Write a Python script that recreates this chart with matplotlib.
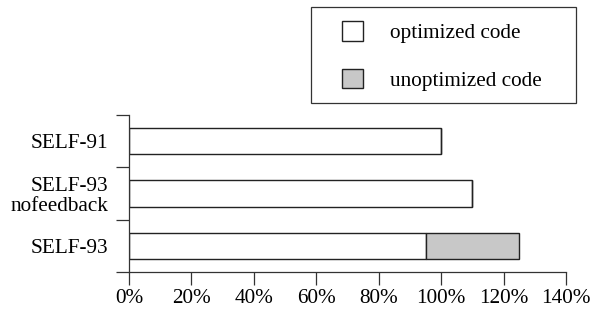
import matplotlib
matplotlib.use('Agg')
from matplotlib import pyplot as plt
from matplotlib.patches import Rectangle
import numpy as np

# Data (relative execution time, % of SELF-91)
labels = ['SELF-91', 'SELF-93\nnofeedback', 'SELF-93']
optimized = [100, 110, 95]
unoptimized = [0, 0, 30]
xticks = [0, 20, 40, 60, 80, 100, 120, 140]

plt.rcParams['font.family'] = ['Liberation Serif', 'DejaVu Serif']
plt.rcParams['font.size'] = 15.3

W, H = 596, 309
fig = plt.figure(figsize=(W / 100, H / 100), dpi=100)
ax = fig.add_axes([129 / W, 1 - 272 / H, (566 - 129) / W, (272 - 115) / H])

y = np.arange(len(labels))[::-1]
ax.barh(y, optimized, height=0.5, color='white', edgecolor='#222222', linewidth=1.0,
        label='optimized code')
ax.barh(y, unoptimized, left=optimized, height=0.5, color='#c8c8c8', edgecolor='#222222',
        linewidth=1.0, label='unoptimized code')

ax.set_xlim(0, 140)
ax.set_ylim(-0.5, len(labels) - 0.5)
ax.set_xticks(xticks)
ax.set_xticklabels([f'{v}%' for v in xticks])
ax.set_yticks(y)
ax.set_yticklabels(labels, linespacing=1.1)
ax.set_yticks(np.arange(-0.5, len(labels)), minor=True)

ax.tick_params(axis='y', which='major', length=0, pad=15)
ax.tick_params(axis='y', which='minor', length=9.5, width=0.9, direction='out', color='#333333')
ax.tick_params(axis='x', length=9.5, width=0.9, direction='out', pad=2.5, color='#333333')

for side in ['top', 'right']:
    ax.spines[side].set_visible(False)
for side in ['left', 'bottom']:
    ax.spines[side].set_linewidth(0.9)
    ax.spines[side].set_color('#333333')

# legend box drawn separately so the padding matches
fig.patches.append(Rectangle((311 / W, 1 - 103 / H), (576 - 311) / W, 96 / H,
                             transform=fig.transFigure, facecolor='white',
                             edgecolor='#333333', linewidth=0.9, zorder=0))
fig.legend(loc='upper left', bbox_to_anchor=(342 / W, 1 - 21 / H), frameon=False,
           handlelength=1.0, handleheight=1.05, handletextpad=1.25,
           labelspacing=1.2, borderpad=0, borderaxespad=0)

fig.savefig('out.png', dpi=100)
